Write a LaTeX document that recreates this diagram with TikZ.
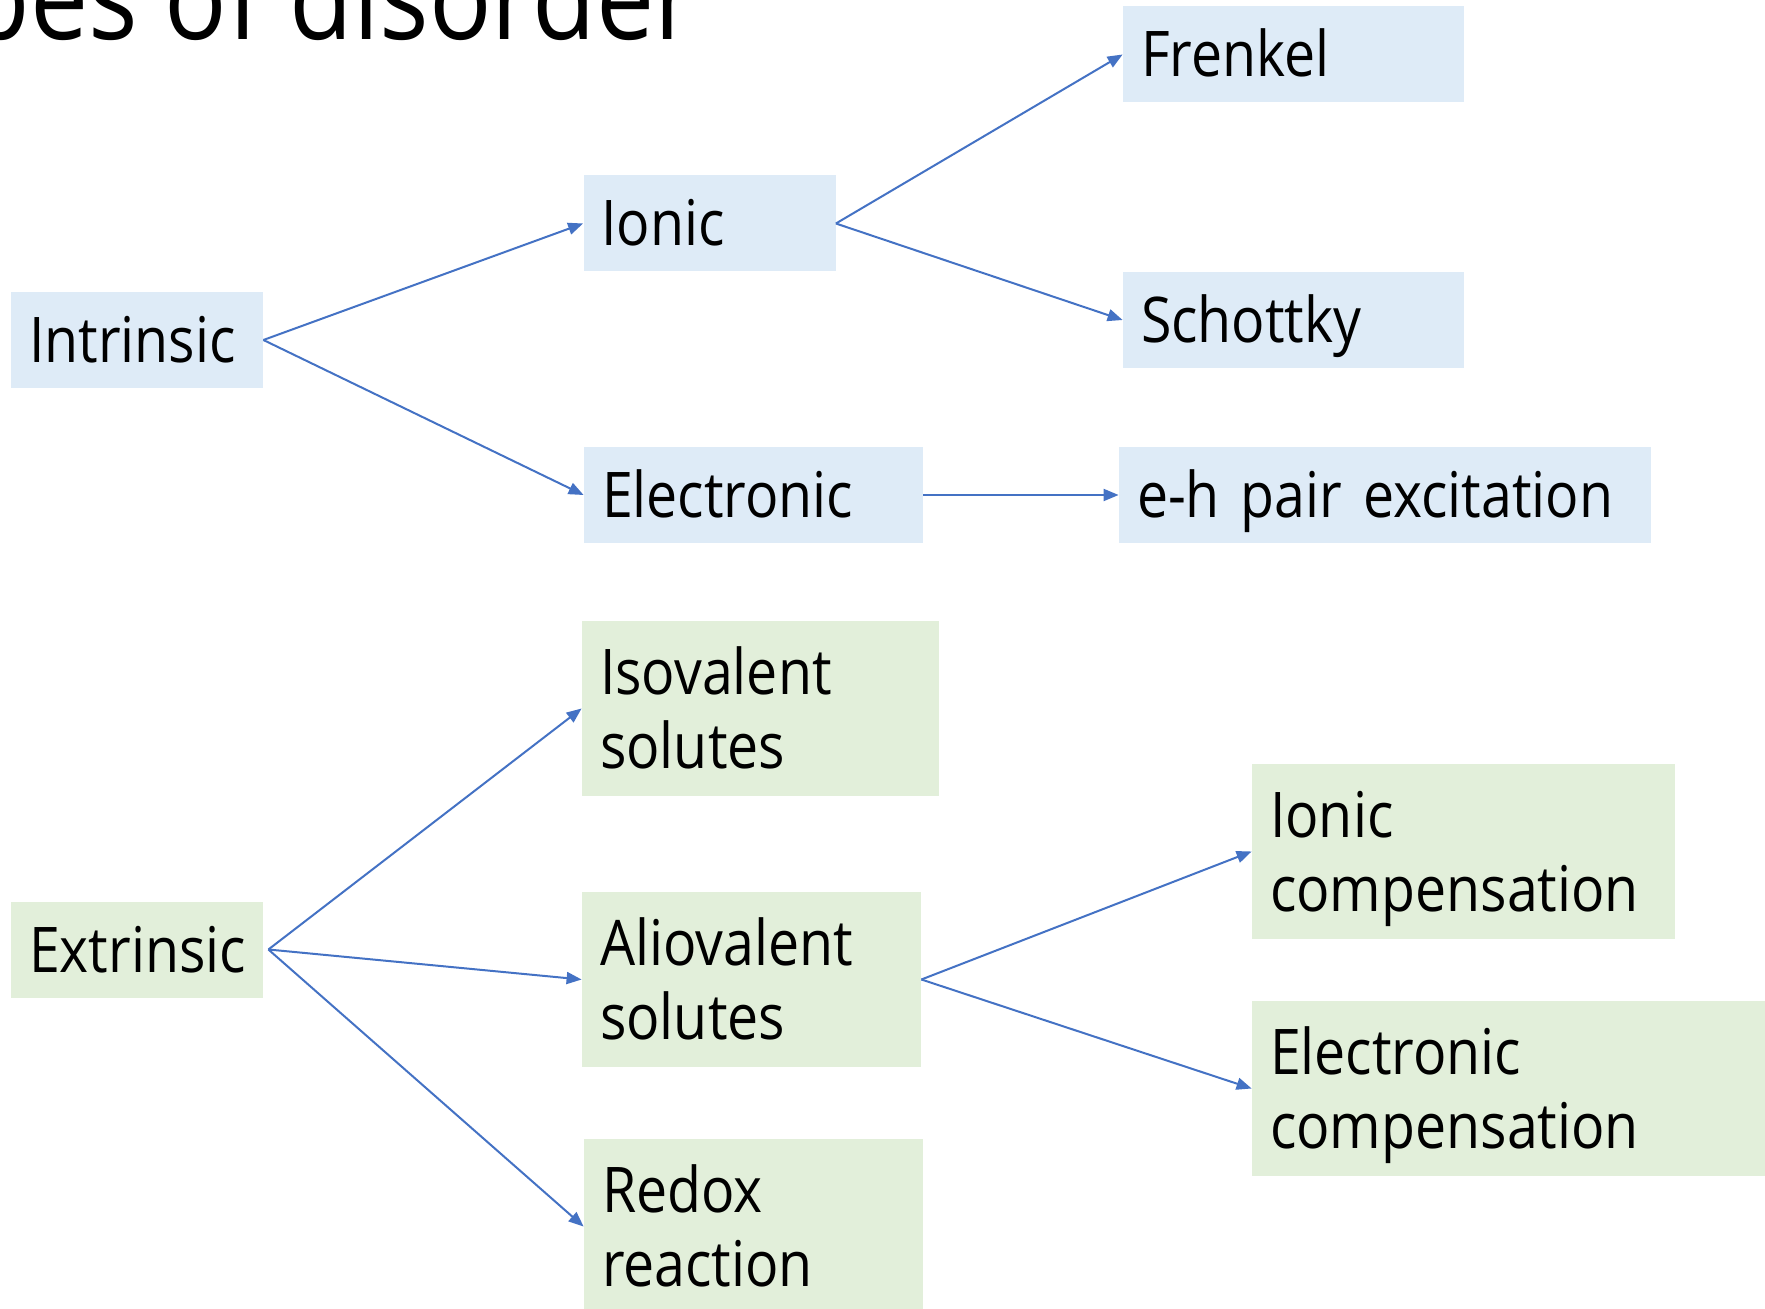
\documentclass[tikz,border=0pt]{standalone}
\usepackage{fontspec}
\setmainfont{Open Sans}[FakeStretch=0.88]
\usetikzlibrary{arrows.meta,positioning}

\newcommand{\boxfont}{\fontsize{31.5}{37}\selectfont}
\newcommand{\titlefont}{\fontsize{59}{70}\selectfont}

\begin{document}
\begin{tikzpicture}[
  x=0.5pt,y=-0.5pt,
  box/.style={inner xsep=9pt,inner ysep=0pt,align=left,text height=22.5pt,text depth=0pt,minimum height=48pt,font=\boxfont},
  blue box/.style={box,fill=light blue},
  green box/.style={box,fill=light green},
  tall/.style={text depth=37pt,minimum height=87.5pt},
  link/.style={draw=arrow blue,line width=1pt,-{Triangle[length=7.5pt,width=6pt]}},
]
  \definecolor{light blue}{HTML}{DEEBF7}
  \definecolor{light green}{HTML}{E2EFDA}
  \definecolor{arrow blue}{HTML}{4472C4}

  \useasboundingbox (0,0) rectangle (1765,1309);
  \clip (0,0) rectangle (1765,1309);

  \node[anchor=base east,inner sep=0,font=\titlefont] (title) at (697,40) {Types of disorder};

  % intrinsic branch
  \node[blue box,text width=108pt] (intr) at (137,340) {Intrinsic};
  \node[blue box,text width=108pt] (ionic) at (709.5,223.5) {Ionic};
  \node[blue box,text width=151.5pt] (elec) at (753.5,495) {Electronic};
  \node[blue box,text width=152.5pt] (frenkel) at (1293.5,54.5) {Frenkel};
  \node[blue box,text width=152.5pt] (schottky) at (1293.5,320) {Schottky};
  \node[blue box,text width=248pt] (eh) at (1385,495) {e-h pair excitation};

  % extrinsic branch
  \node[green box,text width=108pt] (extr) at (137,949.5) {Extrinsic};
  \node[green box,tall,text width=160.5pt] (iso) at (760.5,708.5) {Isovalent\\solutes};
  \node[green box,tall,text width=151.5pt] (alio) at (751.5,979.5) {Aliovalent\\solutes};
  \node[green box,tall,text width=151.5pt] (redox) at (753.5,1226.5) {Redox\\reaction};
  \node[green box,tall,text width=193.5pt] (ioncomp) at (1463.5,851.5) {Ionic\\compensation};
  \node[green box,tall,text width=256pt] (eleccomp) at (1526,1088.5) {Electronic\\compensation};

  \coordinate (extr out) at ([xshift=2.5pt]extr.east);

  \draw[link] (intr.east) -- (ionic.west);
  \draw[link] (intr.east) -- (elec.west);
  \draw[link] (ionic.east) -- (frenkel.west);
  \draw[link] (ionic.east) -- (schottky.west);
  \draw[link] (elec.east) -- (eh.west);

  \draw[link] (extr out) -- (iso.west);
  \draw[link] (extr out) -- (alio.west);
  \draw[link] (extr out) -- (redox.west);
  \draw[link] (alio.east) -- (ioncomp.west);
  \draw[link] (alio.east) -- (eleccomp.west);
\end{tikzpicture}
\end{document}
